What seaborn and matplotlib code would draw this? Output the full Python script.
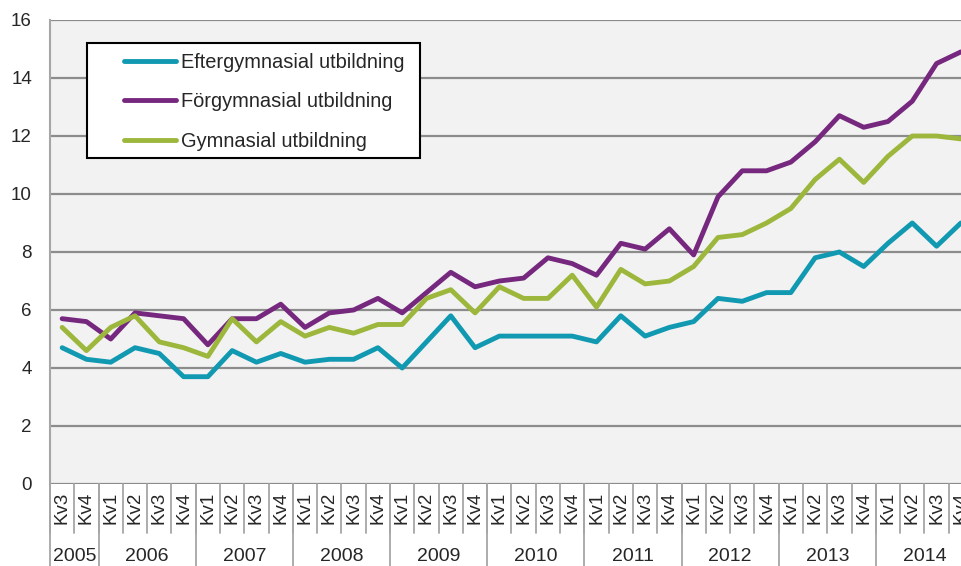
#!/usr/bin/env python3
"""Unemployment share by education level, quarterly 2005-2014."""
import matplotlib
matplotlib.use("Agg")
import matplotlib.pyplot as plt
import pandas as pd
import seaborn as sns
from matplotlib.patches import Rectangle

years = ["2005", "2006", "2007", "2008", "2009",
         "2010", "2011", "2012", "2013", "2014"]
quarters = ["Kv3", "Kv4"] + ["Kv1", "Kv2", "Kv3", "Kv4"] * 9

efter = [4.7, 4.3, 4.2, 4.7, 4.5, 3.7, 3.7, 4.6, 4.2, 4.5,
         4.2, 4.3, 4.3, 4.7, 4.0, 4.9, 5.8, 4.7, 5.1, 5.1,
         5.1, 5.1, 4.9, 5.8, 5.1, 5.4, 5.6, 6.4, 6.3, 6.6,
         6.6, 7.8, 8.0, 7.5, 8.3, 9.0, 8.2, 9.0]
forgym = [5.7, 5.6, 5.0, 5.9, 5.8, 5.7, 4.8, 5.7, 5.7, 6.2,
          5.4, 5.9, 6.0, 6.4, 5.9, 6.6, 7.3, 6.8, 7.0, 7.1,
          7.8, 7.6, 7.2, 8.3, 8.1, 8.8, 7.9, 9.9, 10.8, 10.8,
          11.1, 11.8, 12.7, 12.3, 12.5, 13.2, 14.5, 14.9]
gym = [5.4, 4.6, 5.4, 5.8, 4.9, 4.7, 4.4, 5.7, 4.9, 5.6,
       5.1, 5.4, 5.2, 5.5, 5.5, 6.4, 6.7, 5.9, 6.8, 6.4,
       6.4, 7.2, 6.1, 7.4, 6.9, 7.0, 7.5, 8.5, 8.6, 9.0,
       9.5, 10.5, 11.2, 10.4, 11.3, 12.0, 12.0, 11.9]

series = {
    "Eftergymnasial utbildning": efter,
    "Förgymnasial utbildning": forgym,
    "Gymnasial utbildning": gym,
}
colors = ["#1199B2", "#76287E", "#9CB73C"]

n = len(quarters)
df = pd.concat(
    [pd.DataFrame({"idx": range(n), "value": vals, "serie": name})
     for name, vals in series.items()],
    ignore_index=True,
)

sns.set_style("white")
plt.rcParams["font.family"] = ["Liberation Sans", "DejaVu Sans"]

fig = plt.figure(figsize=(9.62, 5.66), dpi=100)
ax = fig.add_axes([50 / 962, 82 / 566, 923 / 962, 464 / 566])
ax.set_facecolor("#F2F2F2")

sns.lineplot(data=df, x="idx", y="value", hue="serie", palette=colors,
             linewidth=3.5, ax=ax, legend=True)

ax.set_xlim(-0.5, n - 0.5)
ax.set_ylim(0, 16)
ax.set_yticks(range(0, 17, 2))
ax.yaxis.grid(True, color="#8C8C8C", linewidth=1.6)
ax.set_axisbelow(True)
ax.set_xlabel("")
ax.set_ylabel("")
for side in ["top", "right", "bottom"]:
    ax.spines[side].set_visible(False)
ax.spines["left"].set_color("#A6A6A6")
ax.spines["left"].set_linewidth(1.5)
ax.tick_params(axis="y", length=5, color="#A6A6A6", width=1.2,
               labelsize=13.5, pad=8)

# quarter labels + separators below the axis
ax.set_xticks(range(n))
ax.set_xticklabels([])
ax.tick_params(axis="x", length=0)
trans = ax.get_xaxis_transform()
for i, q in enumerate(quarters):
    ax.text(i, -0.052, q, rotation=90, ha="center", va="center",
            fontsize=13.5, transform=trans, clip_on=False)
    ax.plot([i - 0.5, i - 0.5], [0, -0.106], color="#A6A6A6", lw=1.3,
            transform=trans, clip_on=False)

# year labels + longer separators
start = 0
for y in years:
    count = 2 if y == "2005" else 4
    ax.plot([start - 0.5, start - 0.5], [0, -0.2], color="#A6A6A6", lw=1.3,
            transform=trans, clip_on=False)
    ax.text(start + (count - 1) / 2, -0.157, y, ha="center", va="center",
            fontsize=14, transform=trans, clip_on=False)
    start += count

# legend: text without frame, box drawn separately for its uneven padding
leg = ax.legend(loc="upper left", bbox_to_anchor=(124 / 962, 1 - 53 / 566),
                bbox_transform=fig.transFigure, fontsize=14.4, frameon=False,
                borderpad=0, labelspacing=1.02, handlelength=2.6,
                handletextpad=0.25, borderaxespad=0)
for line in leg.get_lines():
    line.set_linewidth(3.5)
leg.set_zorder(6)
ax.add_patch(Rectangle((87 / 962, 1 - 158 / 566), 333 / 962, 115 / 566,
                       transform=fig.transFigure, facecolor="white",
                       edgecolor="black", linewidth=1.5, zorder=5,
                       clip_on=False))

fig.savefig("out.png", dpi=100)
